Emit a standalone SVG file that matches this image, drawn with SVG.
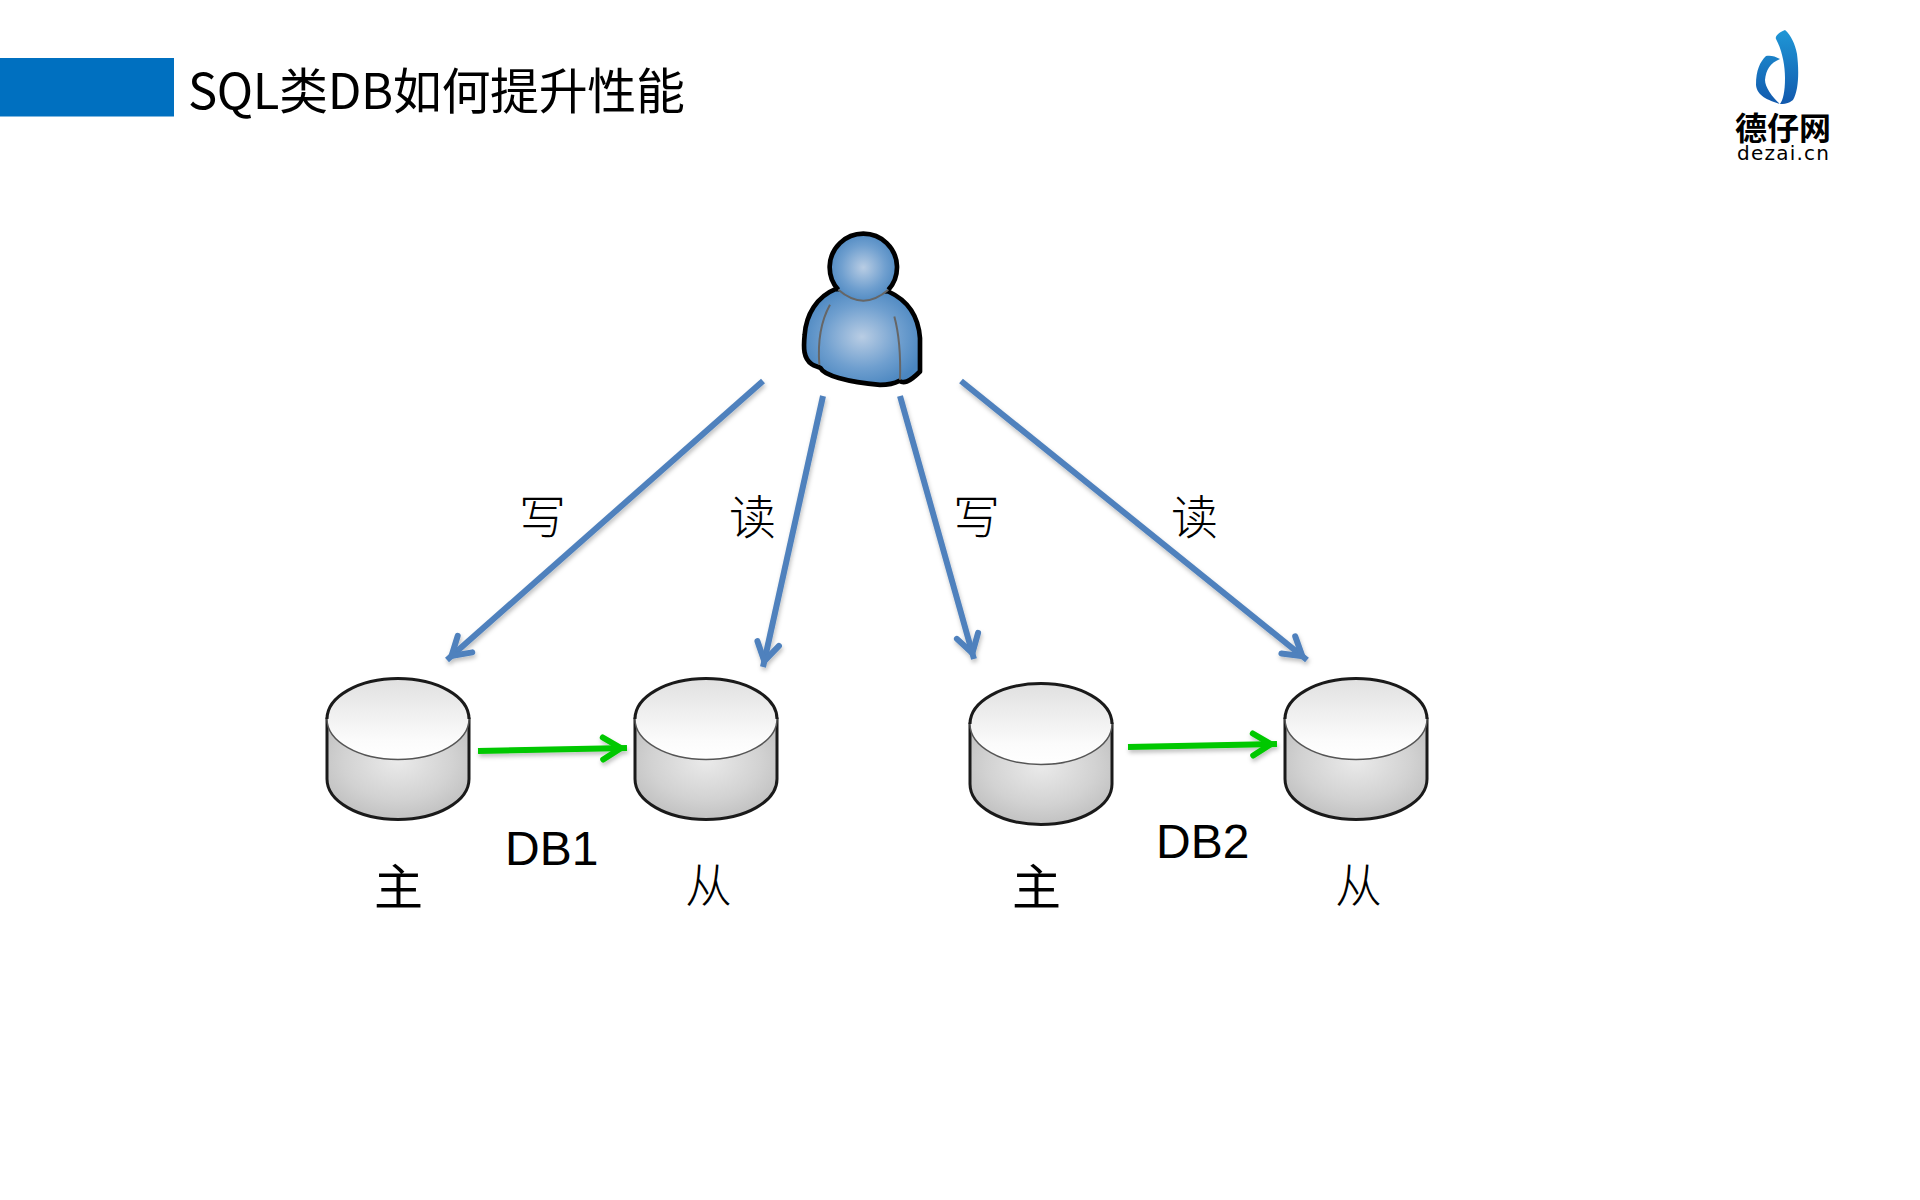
<svg xmlns="http://www.w3.org/2000/svg" width="1920" height="1200" viewBox="0 0 1920 1200">
<style>
text{font-family:"Noto Sans CJK SC","Noto Sans",sans-serif;fill:#000}
.title{font-size:49px}
.heavy{font-size:49px}
.light{font-size:47px;font-weight:300}
.latin{font-family:"Liberation Sans",Arial,sans-serif;font-size:48px}
.blue{fill:none;stroke:#4f81bd;stroke-width:6;marker-end:url(#blueHead);filter:url(#shadow)}
.green{fill:none;stroke:#00c800;stroke-width:6;marker-end:url(#greenHead);filter:url(#shadow)}
</style>
<defs>
<filter id="shadow" x="0" y="0" width="1920" height="1200" filterUnits="userSpaceOnUse">
<feDropShadow dx="1" dy="3" stdDeviation="2" flood-color="#000" flood-opacity=".25"/>
</filter>
<marker id="blueHead" markerUnits="userSpaceOnUse" markerWidth="40" markerHeight="40" refX="6" refY="0" orient="auto" overflow="visible">
<path d="M-18,-11 L0,0 L-18,11" fill="none" stroke="#4f81bd" stroke-width="6" stroke-linecap="round"/>
</marker>
<marker id="greenHead" markerUnits="userSpaceOnUse" markerWidth="40" markerHeight="40" refX="6" refY="0" orient="auto" overflow="visible">
<path d="M-18,-11 L0,0 L-18,11" fill="none" stroke="#00c800" stroke-width="6" stroke-linecap="round"/>
</marker>
<linearGradient id="cylTop" x1="0" y1="0" x2="0" y2="1">
<stop offset="0" stop-color="#e0e0e0"/><stop offset=".75" stop-color="#fbfbfb"/><stop offset="1" stop-color="#fff"/>
</linearGradient>
<radialGradient id="cylSide" cx=".5" cy=".42" r=".7">
<stop offset="0" stop-color="#eaeaea"/><stop offset=".55" stop-color="#d2d2d2"/><stop offset="1" stop-color="#b8b8b8"/>
</radialGradient>
<radialGradient id="skin" cx=".5" cy=".5" r=".55">
<stop offset="0" stop-color="#b9cde4"/><stop offset=".6" stop-color="#6f9fcf"/><stop offset="1" stop-color="#4a86c0"/>
</radialGradient>
<linearGradient id="logoBlue" x1="0" y1="0" x2="0" y2="1">
<stop offset="0" stop-color="#1f97d6"/><stop offset="1" stop-color="#1259ad"/>
</linearGradient>
<g id="cyl">
<path d="M-71,42 V102 A71,40.5 0 0 0 71,102 V42 Z" fill="url(#cylSide)" stroke="#1a1a1a" stroke-width="3"/>
<ellipse cx="0" cy="42" rx="71" ry="40.5" fill="url(#cylTop)" stroke="#555" stroke-width="1.5"/>
<path d="M-71,42 A71,40.5 0 0 1 71,42" fill="none" stroke="#1a1a1a" stroke-width="3"/>
</g>
</defs>
<rect width="1920" height="1200" fill="#fff"/>
<g id="header">
<rect x="0" y="58" width="174" height="58.5" fill="#0070c0"/>
<text class="title" x="188" y="109" textLength="497" lengthAdjust="spacing">SQL类DB如何提升性能</text>
</g>
<g id="logo">
<path d="M1785,30 C1777,33 1775,37 1776,39 C1782,50 1785,65 1785,78 C1785,92 1783,100 1780,104 C1788,104 1790,102 1793,100 C1799,90 1799,70 1797,54 C1795,44 1791,35 1785,30 Z M1780,59 C1775,56 1770,55 1766,56 C1760,62 1756,70 1756,85 C1757,96 1768,100 1780,104 C1772,97 1765,87 1765,80 C1766,70 1770,63 1780,59 Z" fill="url(#logoBlue)"/>
<text x="1735" y="140" font-size="32" font-weight="700">德仔网</text>
<text x="1737" y="160" textLength="92" lengthAdjust="spacing" style="font-family:'DejaVu Sans',sans-serif;font-size:20px">dezai.cn</text>
</g>
<g id="user" transform="translate(780 211.5) scale(.33333)">
<path d="M168,232 C110,255 78,310 74,370 C70,410 70,440 95,458 C105,465 115,465 122,470 C130,490 200,512 300,520 C330,520 345,515 358,508 C370,516 385,515 420,480 L420,380 C415,310 380,265 325,240 Z" fill="url(#skin)" stroke="#000" stroke-width="14" stroke-linejoin="round"/>
<path d="M150,280 C125,325 112,380 118,460 M343,315 C358,370 362,440 360,505" fill="none" stroke="#666" stroke-width="6"/>
<circle cx="250" cy="168" r="101" fill="url(#skin)"/>
<path d="M175,235 A101,101 0 1 1 325,235" fill="none" stroke="#000" stroke-width="14"/>
<path d="M175,235 Q250,300 325,235" fill="none" stroke="#666" stroke-width="6"/>
</g>
<g id="connectors">
<path class="blue" d="M763,381 L447,660"/>
<path class="blue" d="M823,396 L763,667"/>
<path class="blue" d="M900,396 L974,659"/>
<path class="blue" d="M961,381 L1307,660"/>
<path class="green" d="M478,751 L627,748"/>
<path class="green" d="M1128,747 L1277,744"/>
</g>
<g id="db1-master"><use href="#cyl" x="398" y="677"/><text class="heavy" x="374" y="905">主</text></g>
<g id="db1-slave"><use href="#cyl" x="706" y="677"/><text class="light" x="685" y="902">从</text></g>
<g id="db2-master"><use href="#cyl" x="1041" y="682"/><text class="heavy" x="1012" y="905">主</text></g>
<g id="db2-slave"><use href="#cyl" x="1356" y="677"/><text class="light" x="1335" y="902">从</text></g>
<g id="labels">
<text class="light" x="519" y="534">写</text>
<text class="light" x="729" y="534">读</text>
<text class="light" x="953" y="534">写</text>
<text class="light" x="1171" y="534">读</text>
<text class="latin" x="505" y="865">DB1</text>
<text class="latin" x="1156" y="858">DB2</text>
</g>
</svg>
